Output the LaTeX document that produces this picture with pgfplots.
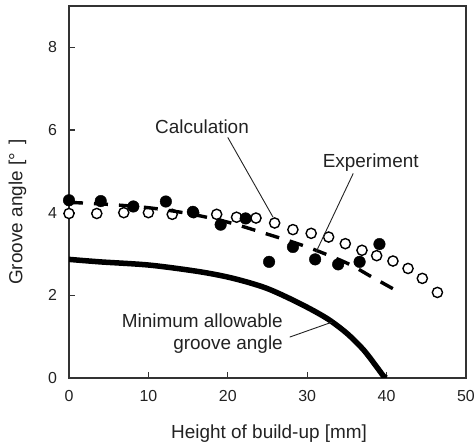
\documentclass[border=0pt]{standalone}
\usepackage{fontspec}
\setmainfont{Liberation Sans}
\usepackage{pgfplots}
\pgfplotsset{compat=1.18}
\definecolor{ink}{HTML}{222222}
\definecolor{axc}{HTML}{333333}
\begin{document}
\begin{tikzpicture}
\begin{axis}[
  at={(69bp,67bp)}, anchor=south west,
  scale only axis, width=397bp, height=372bp,
  xmin=0, xmax=50, ymin=0, ymax=9,
  xtick={0,10,20,30,40,50}, ytick={0,2,4,6,8},
  tick align=inside, xtick pos=left, ytick pos=left,
  major tick length=6bp,
  axis line style={axc, line width=1.4bp},
  every tick/.style={axc, line width=1.2bp},
  /pgf/number format/assume math mode=true,
  ticklabel style={font=\fontsize{16}{18}\selectfont, text=ink},
  xticklabel style={yshift=-8.5bp},
  yticklabel style={xshift=-8.5bp},
  label style={font=\fontsize{19}{22}\selectfont, text=ink},
  xlabel={Height of build-up [mm]},
  ylabel={Groove angle [°\ \,]},
  xlabel style={at={(axis description cs:0.504,0)}, anchor=base, yshift=-60bp},
  ylabel style={at={(axis description cs:-0.13,0.446)}, anchor=center},
  clip mode=individual,
]
% Minimum allowable groove angle
\addplot[black, line width=5.5bp, smooth, tension=0.5] coordinates {
(0,2.87)(3.9,2.81)(10.2,2.73)(16.5,2.57)(20.7,2.41)(24.9,2.17)(29.1,1.80)(32.5,1.44)(35,1.08)(37.1,0.68)(38.75,0.27)(39.6,0.05)(40,0)};
% Calculation (open)
\addplot[only marks, mark=*, mark size=5.1bp, mark options={fill=white, draw=black, line width=1.4bp}] coordinates {
(0,3.98)(3.5,3.98)(6.9,4.0)(10.0,4.0)(13.0,3.96)(15.7,4.0)(18.6,3.96)(21.1,3.89)(23.55,3.87)(25.9,3.75)(28.2,3.59)(30.5,3.50)(32.7,3.41)(34.8,3.25)(36.9,3.09)(38.75,2.96)(40.8,2.83)(42.7,2.65)(44.5,2.41)(46.4,2.07)};
% Experiment (filled)
\addplot[only marks, mark=*, mark size=5.8bp, mark options={fill=black, draw=black}] coordinates {
(0,4.30)(4.0,4.28)(8.1,4.15)(12.2,4.27)(15.6,4.02)(19.1,3.71)(22.25,3.86)(25.2,2.81)(28.2,3.17)(31.0,2.87)(33.9,2.75)(36.6,2.81)(39.1,3.24)};
% dashed fit
\addplot[black, line width=3.4bp, dash pattern=on 14bp off 11bp, smooth] coordinates {
(0,4.25)(5,4.2)(10,4.12)(15,3.98)(20,3.77)(25,3.48)(30,3.17)(35,2.78)(38,2.46)(40.8,2.16)};
% annotations
\draw[ink, line width=0.9bp] (axis cs:20.0,5.82) -- (axis cs:25.7,3.89);
\draw[ink, line width=0.9bp] (axis cs:35.8,4.95) -- (axis cs:31.1,3.04);
\draw[ink, line width=0.9bp] (axis cs:27.8,0.99) -- (axis cs:33.1,1.35);
\node[anchor=base, inner sep=0, font=\fontsize{19}{22}\selectfont, text=ink] at (axis cs:16.75,5.92) {Calculation};
\node[anchor=base, inner sep=0, font=\fontsize{19}{22}\selectfont, text=ink] at (axis cs:38.0,5.10) {Experiment};
\node[anchor=base east, inner sep=0, font=\fontsize{19}{22}\selectfont, text=ink] at (axis cs:26.95,1.23) {Minimum allowable};
\node[anchor=base east, inner sep=0, font=\fontsize{19}{22}\selectfont, text=ink] at (axis cs:26.95,0.68) {groove angle};
\end{axis}
\pgfresetboundingbox
\path (0,0) rectangle (475bp,445bp);
\end{tikzpicture}
\end{document}
